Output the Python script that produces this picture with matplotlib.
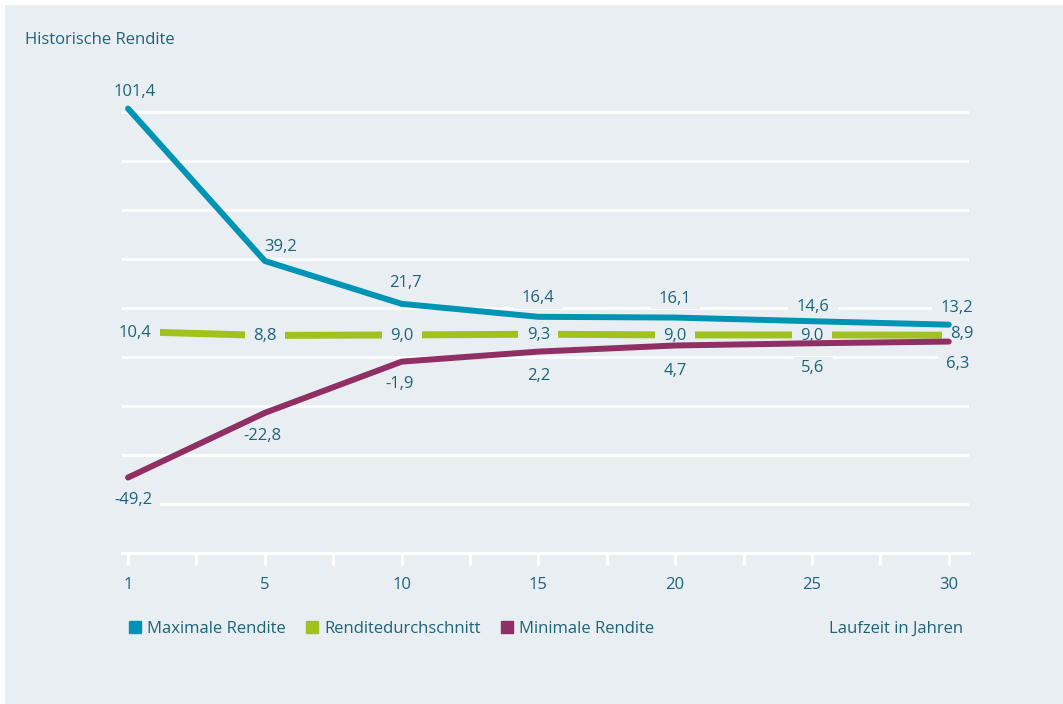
import numpy as np
import matplotlib
matplotlib.use("Agg")
import matplotlib.pyplot as plt
from matplotlib.lines import Line2D
from matplotlib.patches import Rectangle

# data
laufzeit = ["1", "5", "10", "15", "20", "25", "30"]
maximal = [101.4, 39.2, 21.7, 16.4, 16.1, 14.6, 13.2]
durchschnitt = [10.4, 8.8, 9.0, 9.3, 9.0, 9.0, 8.9]
minimal = [-49.2, -22.8, -1.9, 2.2, 4.7, 5.6, 6.3]

BG = "#e9eef2"
TXT = "#1d6479"
BLUE = "#0094b4"
GREEN = "#a1c11f"
PURPLE = "#8f2f63"

plt.rcParams["font.family"] = ["Open Sans", "DejaVu Sans"]
plt.rcParams["font.size"] = 12

fig = plt.figure(figsize=(10.63, 7.04), dpi=100)
fig.patch.set_facecolor("white")
fig.patches.append(Rectangle((5 / 1063, 0), 1, 1 - 5 / 704, transform=fig.transFigure,
                             facecolor=BG, edgecolor="none", zorder=-10))

ax = fig.add_axes([122 / 1063, 151 / 704, 847 / 1063, (616.5 - 151) / 704])
ax.set_facecolor("none")
ax.set_zorder(1)
x = np.arange(len(laufzeit))

ax.plot(x, durchschnitt, color=GREEN, lw=5.0, solid_capstyle="butt", zorder=3)
ax.plot(x, maximal, color=BLUE, lw=4.3, solid_capstyle="round", zorder=4)
ax.plot(x, minimal, color=PURPLE, lw=4.3, solid_capstyle="round", zorder=4)

# wide but flat label boxes, they cut the grid (and the green line) like in the original
box = dict(boxstyle="square,pad=0.5", fc=BG, ec="none", mutation_aspect=0.35)


def fmt(v):
    return f"{v:.1f}".replace(".", ",")


off_max = [(7, 17), (16, 14), (4, 21), (0, 19), (0, 19), (1, 14), (8, 17)]
off_avg = [(7, -1), (0, -1), (0, -1), (0, -1), (0, -1), (0, -1), (13, 1)]
off_min = [(5, -22), (-2, -23), (-2, -22), (0, -24), (0, -26), (1, -25), (9, -22)]

# green labels sit on the green line, the others below the lines
for vals, offs, z in [(maximal, off_max, 2), (durchschnitt, off_avg, 3.5),
                      (minimal, off_min, 2)]:
    for i, v in enumerate(vals):
        ax.annotate(fmt(v), (x[i], v), xytext=offs[i], textcoords="offset pixels",
                    ha="center", va="center", color=TXT, fontsize=12,
                    bbox=box, zorder=z)

ax.set_xlim(-0.044, 6.148)
ax.set_ylim(-80, 110)
ax.set_yticks(np.arange(-80, 101, 20))
ax.yaxis.grid(True, color="white", lw=2, zorder=1)
ax.tick_params(axis="y", length=0, labelleft=False)
ax.set_axisbelow(True)

for s in ["top", "right", "left"]:
    ax.spines[s].set_visible(False)
ax.spines["bottom"].set_color("white")
ax.spines["bottom"].set_linewidth(2.2)

ax.set_xticks(x)
ax.set_xticklabels(laufzeit)
ax.set_xticks(x[:-1] + 0.5, minor=True)
ax.tick_params(axis="x", which="both", direction="out", length=8.6, width=2.2,
               color="white", labelcolor=TXT, pad=8.5, labelsize=12)

fig.text(25 / 1063, 1 - 40 / 704, "Historische Rendite", color=TXT, fontsize=12,
         ha="left", va="center")
fig.text(963 / 1063, 1 - 629 / 704, "Laufzeit in Jahren", color=TXT, fontsize=12,
         ha="right", va="center")

handles = [Line2D([], [], marker="s", ls="none", color=c, markersize=8.6)
           for c in (BLUE, GREEN, PURPLE)]
fig.legend(handles, ["Maximale Rendite", "Renditedurchschnitt", "Minimale Rendite"],
           loc="center left", bbox_to_anchor=(129 / 1063, 1 - 629 / 704), ncol=3,
           frameon=False, borderpad=0, borderaxespad=0, handlelength=0.7,
           handletextpad=0.36, columnspacing=1.25, labelcolor=TXT, fontsize=12)

fig.savefig("out.png", dpi=100, facecolor=fig.get_facecolor())
